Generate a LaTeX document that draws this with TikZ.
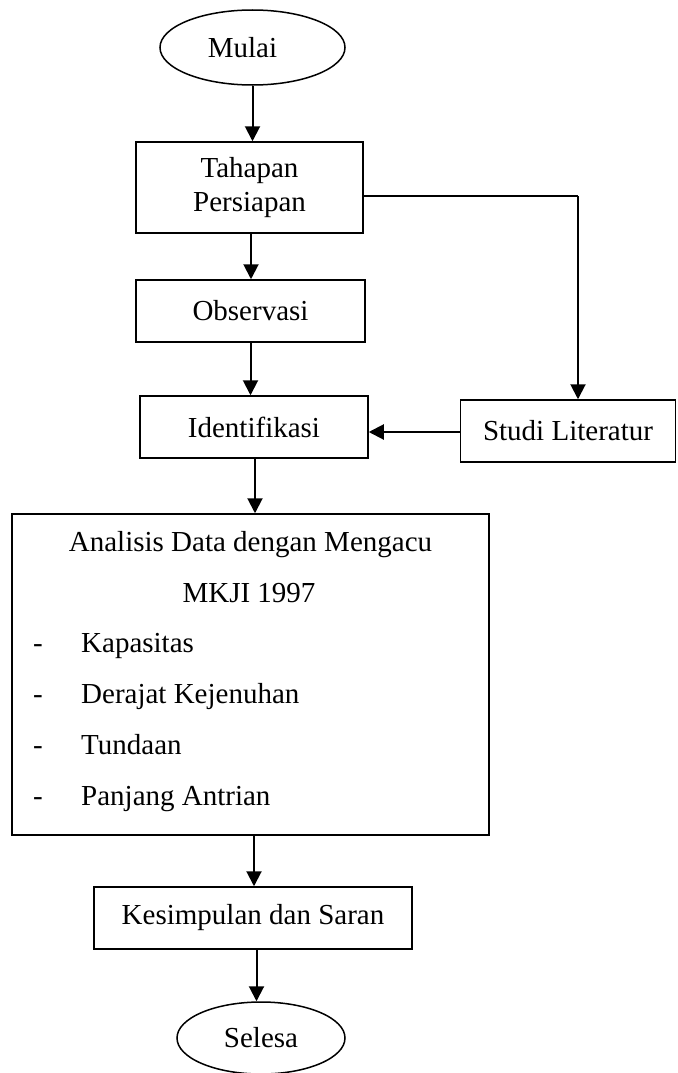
\documentclass[tikz,border=0pt]{standalone}
\usepackage{fontspec}
\setmainfont{Liberation Serif}
\usetikzlibrary{shapes.geometric,arrows.meta}
\begin{document}
\begin{tikzpicture}[x=1pt,y=-1pt,
  every node/.style={font=\fontsize{29}{34}\selectfont, inner sep=0pt},
  stepbox/.style={draw, rectangle, line width=1.5pt, align=center},
  termbox/.style={draw, ellipse, line width=1.5pt},
  txt/.style={anchor=base},
  flow/.style={line width=2pt, -{Triangle[width=15pt,length=15pt]}},
  plain/.style={line width=1.5pt}]
\useasboundingbox (0,0) rectangle (677,1073);
\node[termbox, minimum width=185pt, minimum height=75pt] (mulai) at (252.5,47.5) {Mulai\kern20pt};
\node[stepbox, minimum width=227pt, minimum height=91pt] (tahapan) at (249.5,187.5) {Tahapan\\Persiapan};
\node[stepbox, minimum width=229pt, minimum height=62pt] (observasi) at (250.5,311) {Observasi};
\node[stepbox, minimum width=228pt, minimum height=62pt] (identifikasi) at (254,427) {Identifikasi};
\node[stepbox, minimum width=215pt, minimum height=62pt] (studi) at (568,431) {Studi Literatur};
\node[stepbox, minimum width=477pt, minimum height=321pt] (analisis) at (250.5,674.5) {};
\node[txt] (t1) at (250.5,551.5) {Analisis Data dengan Mengacu};
\node[txt] (t2) at (249,602.5) {MKJI 1997};
\node[txt, anchor=base west] (d1) at (33,652.5) {-};
\node[txt, anchor=base west] (i1) at (81,652.5) {Kapasitas};
\node[txt, anchor=base west] (d2) at (33,703.5) {-};
\node[txt, anchor=base west] (i2) at (81,703.5) {Derajat Kejenuhan};
\node[txt, anchor=base west] (d3) at (33,754) {-};
\node[txt, anchor=base west] (i3) at (81,754) {Tundaan};
\node[txt, anchor=base west] (d4) at (33,805) {-};
\node[txt, anchor=base west] (i4) at (81,805) {Panjang Antrian};
\node[stepbox, minimum width=318pt, minimum height=62pt] (kesimpulan) at (253,918) {Kesimpulan dan Saran};
\node[termbox, minimum width=168pt, minimum height=72pt] (selesa) at (261,1038) {Selesa};
\coordinate (c1) at (578,196);
\draw[flow] (mulai.south) -- (mulai.south |- tahapan.north);
\draw[flow] ([xshift=1.5pt]tahapan.south) -- ([xshift=1.5pt]tahapan.south |- observasi.north);
\draw[flow] (observasi.south) -- (observasi.south |- identifikasi.north);
\draw[plain] (tahapan.east |- c1) -- (c1);
\draw[flow] (c1) -- (c1 |- studi.north);
\draw[flow] (studi.west |- 0,432) -- (identifikasi.east |- 0,432);
\draw[flow] ([xshift=1pt]identifikasi.south) -- ([xshift=1pt]identifikasi.south |- analisis.north);
\draw[flow] ([xshift=3.5pt]analisis.south) -- ([xshift=3.5pt]analisis.south |- kesimpulan.north);
\draw[flow] ([xshift=3.5pt]kesimpulan.south) -- ([xshift=3.5pt]kesimpulan.south |- selesa.north);
\end{tikzpicture}
\end{document}
